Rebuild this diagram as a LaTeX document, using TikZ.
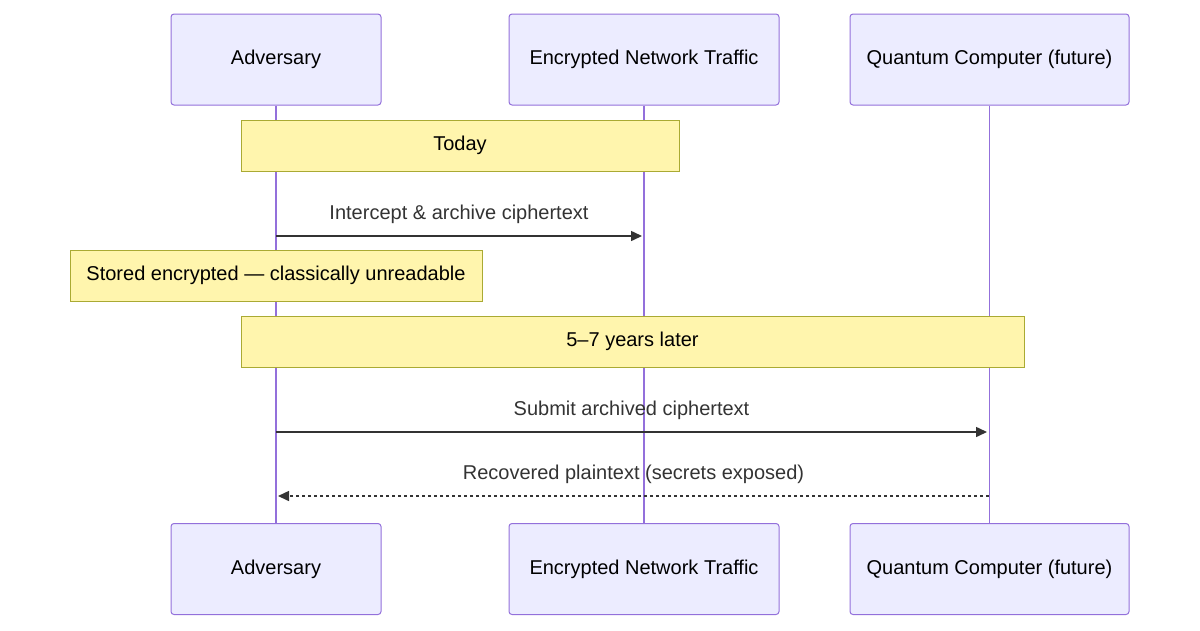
\documentclass[tikz,border=0pt]{standalone}
\usepackage{fontspec}
\setmainfont{Liberation Sans}
\usetikzlibrary{arrows.meta}
\definecolor{actfill}{HTML}{ECECFF}
\definecolor{actline}{HTML}{9370DB}
\definecolor{notefill}{HTML}{FFF5AD}
\definecolor{noteline}{HTML}{AAAA33}
\definecolor{txt}{HTML}{333333}
\begin{document}
\begin{tikzpicture}[
    x=1pt,y=-1pt,
    actor/.style={draw=actline, fill=actfill, rounded corners=3pt, line width=1pt, minimum height=91pt, inner sep=0pt, font=\fontsize{20}{24}\selectfont},
    note/.style={draw=noteline, fill=notefill, line width=1pt, minimum height=51pt, inner sep=0pt, font=\fontsize{20}{24}\selectfont},
    life/.style={actline, line width=1.5pt},
    msg/.style={txt, line width=1.5pt, -{Triangle[length=11pt,width=10pt]}},
    lbl/.style={text=txt, font=\fontsize{20}{24}\selectfont}
    ]
    \useasboundingbox (0, 0) rectangle (1200, 630);
    \node[actor, minimum width=210pt] (a1) at (276, 59.5) {Adversary};
    \node[actor, minimum width=270pt] (b1) at (644, 59.5) {Encrypted Network Traffic};
    \node[actor, minimum width=279pt] (c1) at (989.5, 59.5) {Quantum Computer (future)};
    \node[actor, minimum width=210pt] (a2) at (276, 569) {Adversary};
    \node[actor, minimum width=270pt] (b2) at (644, 569) {Encrypted Network Traffic};
    \node[actor, minimum width=279pt] (c2) at (989.5, 569) {Quantum Computer (future)};
    \draw[life] (a1) -- (a2);
    \draw[life] (b1) -- (b2);
    \draw[life] (c1) -- (c2);
    \node[note, minimum width=438pt] (today) at (460, 145.5) {Today};
    \node[note, minimum width=412pt] (stored) at (276, 275.5) {Stored encrypted — classically unreadable};
    \node[note, minimum width=783pt] (later) at (632.5, 341.5) {5–7 years later};
    \coordinate (m1s) at (276, 236);
    \coordinate (m1e) at (642, 236);
    \coordinate (m2s) at (276, 432);
    \coordinate (m2e) at (987, 432);
    \coordinate (m3s) at (989, 496);
    \coordinate (m3e) at (278, 496);
    \draw[msg] (m1s) -- (m1e) node[lbl, midway, above=8pt] {Intercept \& archive ciphertext};
    \draw[msg] (m2s) -- (m2e) node[lbl, midway, above=8pt] {Submit archived ciphertext};
    \draw[msg, dash pattern=on 3pt off 3pt] (m3s) -- (m3e) node[lbl, midway, above=8pt] {Recovered plaintext (secrets exposed)};
  \end{tikzpicture}
\end{document}
